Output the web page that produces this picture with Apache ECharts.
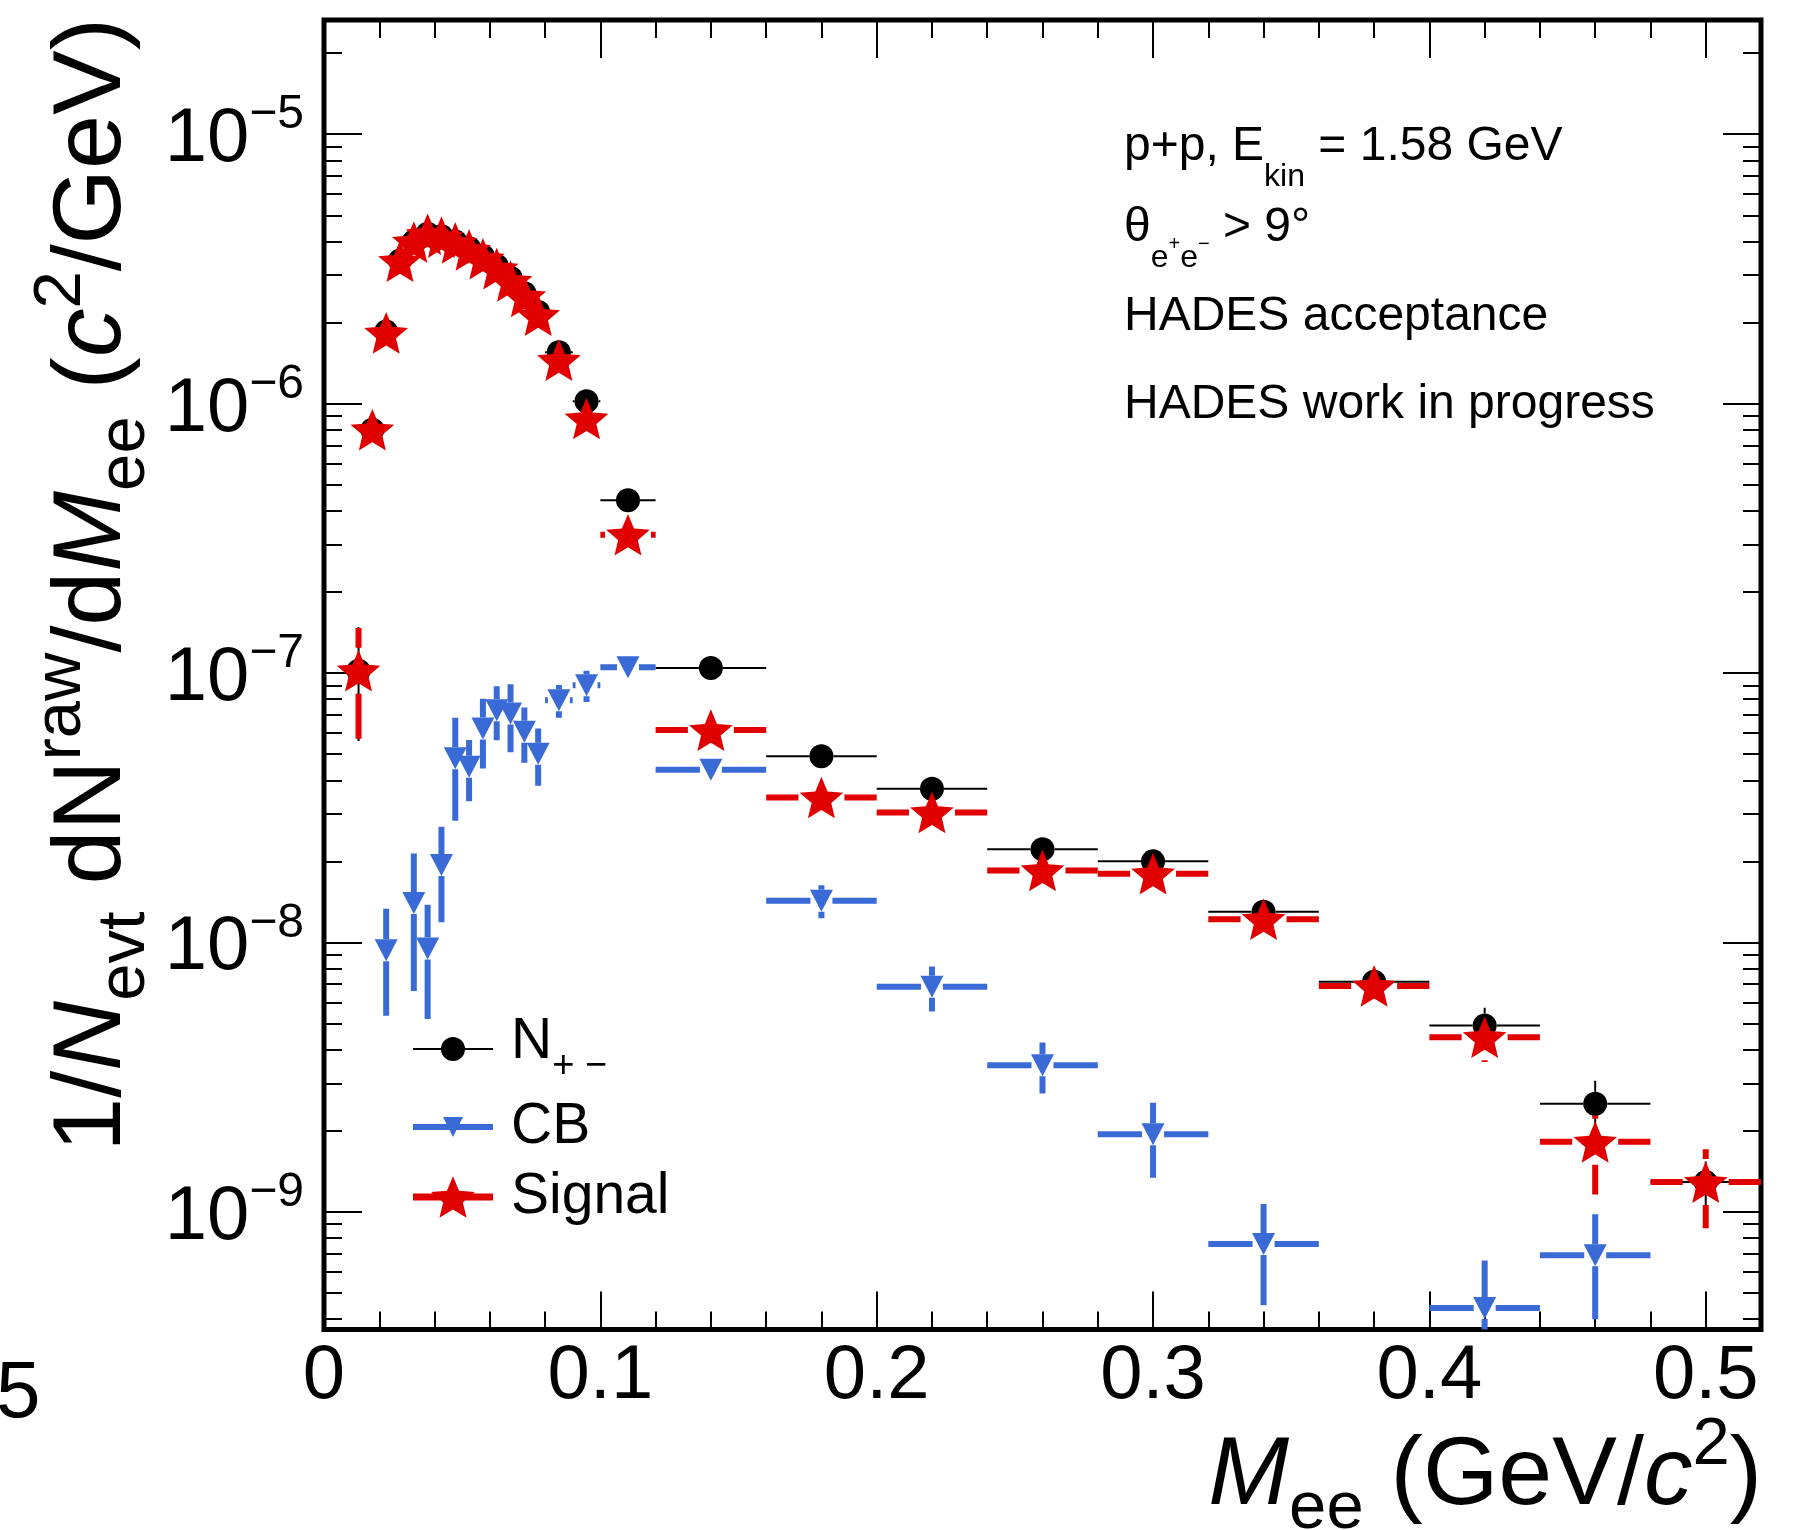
<!DOCTYPE html>
<html>
<head>
<meta charset="utf-8">
<script src="https://cdn.jsdelivr.net/npm/echarts@6/dist/echarts.min.js"></script>
<style>
html,body{margin:0;padding:0;background:#ffffff;}
#chart{width:1808px;height:1530px;}
</style>
</head>
<body>
<div id="chart"></div>
<script>
// ---------------- data ----------------
const binCenter = [0.0125, 0.0175, 0.0225, 0.0275, 0.0325, 0.0375, 0.0425, 0.0475, 0.0525, 0.0575, 0.0625, 0.0675, 0.0725, 0.0775,
                   0.085, 0.095, 0.11, 0.14, 0.18, 0.22, 0.26, 0.30, 0.34, 0.38, 0.42, 0.46, 0.50];
const binHalfWidth = [0.0025, 0.0025, 0.0025, 0.0025, 0.0025, 0.0025, 0.0025, 0.0025, 0.0025, 0.0025, 0.0025, 0.0025, 0.0025, 0.0025,
                      0.005, 0.005, 0.01, 0.02, 0.02, 0.02, 0.02, 0.02, 0.02, 0.02, 0.02, 0.02, 0.02];

// N+- (all pairs)
const nVal = [1.02e-7, 8.0e-7, 1.85e-6, 3.40e-6, 4.0e-6, 4.27e-6, 4.18e-6, 4.0e-6, 3.77e-6, 3.52e-6, 3.25e-6, 2.93e-6, 2.57e-6, 2.19e-6,
              1.55e-6, 1.02e-6, 4.38e-7, 1.045e-7, 4.91e-8, 3.72e-8, 2.22e-8, 2.0e-8, 1.30e-8, 7.15e-9, 4.92e-9, 2.52e-9, 1.29e-9];
const nErr = [4.6e-8, 2.0e-8, 3.0e-8, 4.0e-8, 4.4e-8, 4.5e-8, 4.5e-8, 4.4e-8, 4.3e-8, 4.1e-8, 3.9e-8, 3.7e-8, 3.5e-8, 3.2e-8,
              2.7e-8, 2.2e-8, 1.3e-8, 2.0e-9, 1.5e-9, 1.3e-9, 1.0e-9, 0.9e-9, 0.9e-9, 0.4e-9, 0.8e-9, 0.55e-9, 0.25e-9];

// CB (combinatorial background)
const cbVal = [null, null, 9.35e-9, null, 1.40e-8, 9.5e-9, 1.94e-8, 4.83e-8, 4.49e-8, 6.22e-8, 7.28e-8, 7.08e-8, 6.05e-8, 5.02e-8,
               7.92e-8, 9.0e-8, 1.05e-7, 4.38e-8, 1.43e-8, 6.85e-9, 3.5e-9, 1.94e-9, 7.6e-10, null, 4.4e-10, 6.9e-10, null];
const cbErr = [null, null, 4.0e-9, null, 7.4e-9, 4.3e-9, 7.5e-9, 2.0e-8, 1.15e-8, 1.8e-8, 1.65e-8, 2.0e-8, 1.4e-8, 1.2e-8,
               1.1e-8, 1.2e-8, 5.0e-9, 2.5e-9, 2.0e-9, 1.3e-9, 0.75e-9, 0.6e-9, 3.1e-10, null, 2.2e-10, 2.9e-10, null];

// Signal
const sigVal = [1.02e-7, 8.0e-7, 1.83e-6, 3.38e-6, 3.98e-6, 4.25e-6, 4.15e-6, 3.95e-6, 3.72e-6, 3.45e-6, 3.17e-6, 2.85e-6, 2.50e-6, 2.13e-6,
                1.45e-6, 8.8e-7, 3.26e-7, 6.14e-8, 3.45e-8, 3.04e-8, 1.85e-8, 1.80e-8, 1.22e-8, 6.9e-9, 4.45e-9, 1.82e-9, 1.29e-9];
const sigErr = [4.5e-8, 2.0e-8, 3.0e-8, 4.0e-8, 4.4e-8, 4.5e-8, 4.5e-8, 4.4e-8, 4.3e-8, 4.1e-8, 3.9e-8, 3.7e-8, 3.5e-8, 3.2e-8,
                2.7e-8, 2.2e-8, 1.2e-8, 3.0e-9, 2.0e-9, 1.7e-9, 1.2e-9, 1.1e-9, 8.0e-10, 5.5e-10, 8.5e-10, 6.6e-10, 4.2e-10];

// ticks
const xMajorTicks = [0, 0.1, 0.2, 0.3, 0.4, 0.5];
const xMinorTicks = [0.02, 0.04, 0.06, 0.08, 0.12, 0.14, 0.16, 0.18, 0.22, 0.24, 0.26, 0.28,
                     0.32, 0.34, 0.36, 0.38, 0.42, 0.44, 0.46, 0.48];
const yMajorTicks = [1e-9, 1e-8, 1e-7, 1e-6, 1e-5];
const yMinorTicks = [4e-10, 5e-10, 6e-10, 7e-10, 8e-10, 9e-10,
                     2e-9, 3e-9, 4e-9, 5e-9, 6e-9, 7e-9, 8e-9, 9e-9,
                     2e-8, 3e-8, 4e-8, 5e-8, 6e-8, 7e-8, 8e-8, 9e-8,
                     2e-7, 3e-7, 4e-7, 5e-7, 6e-7, 7e-7, 8e-7, 9e-7,
                     2e-6, 3e-6, 4e-6, 5e-6, 6e-6, 7e-6, 8e-6, 9e-6,
                     2e-5];
const X_MIN = 0, X_MAX = 0.52;
const Y_MIN = 3.661e-10, Y_MAX = 2.653e-5;

// ---------------- styling ----------------
const FONT = '"Liberation Sans", Arial, Helvetica, sans-serif';
const RED = '#e00000', BLUE = '#3a6ad6', BLACK = '#000000';

function rows(vals, errs) {
  const out = [];
  for (let i = 0; i < binCenter.length; i++) {
    if (vals[i] == null) continue;
    const y = vals[i], e = errs[i] || 0;
    out.push([binCenter[i], y, binCenter[i] - binHalfWidth[i], binCenter[i] + binHalfWidth[i], Math.max(y - e, 1e-14), y + e]);
  }
  return out;
}
function points(vals) {
  const out = [];
  for (let i = 0; i < binCenter.length; i++) if (vals[i] != null) out.push([binCenter[i], vals[i]]);
  return out;
}

function barRenderer(lw, gap, color) {
  return function (params, api) {
    const x = api.value(0), y = api.value(1);
    const c = api.coord([x, y]);
    const l = api.coord([api.value(2), y]);
    const r = api.coord([api.value(3), y]);
    const lo = api.coord([x, api.value(4)]);
    const hi = api.coord([x, api.value(5)]);
    const style = { stroke: color, lineWidth: lw, fill: null, lineCap: 'butt' };
    const kids = [];
    function seg(x1, y1, x2, y2) { kids.push({ type: 'line', shape: { x1: x1, y1: y1, x2: x2, y2: y2 }, style: style }); }
    if (c[0] - gap > l[0]) seg(l[0], c[1], c[0] - gap, c[1]);
    if (r[0] > c[0] + gap) seg(c[0] + gap, c[1], r[0], c[1]);
    if (c[1] - gap > hi[1]) seg(c[0], hi[1], c[0], c[1] - gap);
    if (isFinite(lo[1]) && lo[1] > c[1] + gap) seg(c[0], c[1] + gap, c[0], lo[1]);
    return { type: 'group', children: kids };
  };
}

function starPts(cx, cy, R, ratio) {
  const p = [];
  for (let k = 0; k < 10; k++) {
    const a = -Math.PI / 2 + k * Math.PI / 5;
    const rr = (k % 2) ? R * ratio : R;
    p.push((cx + rr * Math.cos(a)).toFixed(2) + ',' + (cy + rr * Math.sin(a)).toFixed(2));
  }
  return 'M' + p.join(' L') + ' Z';
}
const STAR_R = 23, STAR_RATIO = 0.45;
const starSymbol = 'path://' + starPts(0, 0, STAR_R, STAR_RATIO);
const triSymbol = 'path://M0,0 L23,0 L11.5,22 Z';

const iconN = 'path://M0,20 L80,20 L80,22 L0,22 Z M28,21 A12,12 0 0,1 52,21 A12,12 0 0,1 28,21 Z';
const iconCB = 'path://M0,7 L80,7 L80,13 L0,13 Z M30,0 L50,0 L40,20 Z';
const iconSig = 'path://M0,17.3 L80,17.3 L80,24.3 L0,24.3 Z ' + starPts(40, 23, STAR_R, STAR_RATIO);

const chart = echarts.init(document.getElementById('chart'), null, { renderer: 'canvas' });

function xAxisDef(pos, ticks, len, labels) {
  return {
    type: 'value', gridIndex: 0, position: pos, min: X_MIN, max: X_MAX,
    interval: len > 20 ? 0.1 : 0.02,
    axisLine: { show: false, onZero: false },
    axisTick: { show: true, inside: true, length: len, customValues: ticks, lineStyle: { color: '#000', width: 2 } },
    axisLabel: labels ? { show: true, customValues: xMajorTicks, margin: 10, color: '#000', fontFamily: FONT, fontSize: 76,
                         formatter: function (v) { return v === 0 ? '0' : String(+v.toFixed(2)); } }
                      : { show: false },
    splitLine: { show: false }, minorTick: { show: false }, minorSplitLine: { show: false }
  };
}
function yAxisDef(pos, ticks, len, labels) {
  return {
    type: 'log', logBase: 10, gridIndex: 0, position: pos, min: Y_MIN, max: Y_MAX,
    axisLine: { show: false, onZero: false },
    axisTick: { show: true, inside: true, length: len, customValues: ticks, lineStyle: { color: '#000', width: 2 } },
    axisLabel: labels ? {
      show: true, customValues: yMajorTicks, margin: 20,
      formatter: function (v) { const e = Math.round(Math.log10(v)); return '{b|10}{s|\u2212' + Math.abs(e) + '}'; },
      rich: {
        b: { fontFamily: FONT, fontSize: 76, color: '#000', height: 76, lineHeight: 88, verticalAlign: 'bottom' },
        s: { fontFamily: FONT, fontSize: 48, color: '#000', height: 50, verticalAlign: 'top' }
      }
    } : { show: false },
    splitLine: { show: false }, minorTick: { show: false }, minorSplitLine: { show: false }
  };
}

const titleRich = {
  t: { fontFamily: FONT, fontSize: 97, fill: '#000', height: 97, lineHeight: 130, verticalAlign: 'middle' },
  it: { fontFamily: FONT, fontSize: 97, fontStyle: 'italic', fill: '#000', height: 97, lineHeight: 130, verticalAlign: 'middle' },
  sub: { fontFamily: FONT, fontSize: 67, fill: '#000', height: 64, verticalAlign: 'bottom' },
  sup: { fontFamily: FONT, fontSize: 67, fill: '#000', height: 68, verticalAlign: 'top' }
};

const option = {
  animation: false,
  backgroundColor: '#ffffff',
  textStyle: { fontFamily: FONT },
  grid: { left: 324, top: 20, width: 1437, height: 1309.5, show: true, borderColor: '#000', borderWidth: 5,
          backgroundColor: 'transparent', containLabel: false, outerBoundsMode: 'none' },
  xAxis: [
    xAxisDef('bottom', xMajorTicks, 38, true),
    xAxisDef('bottom', xMinorTicks, 18, false),
    xAxisDef('top', xMajorTicks, 38, false),
    xAxisDef('top', xMinorTicks, 18, false)
  ],
  yAxis: [
    yAxisDef('left', yMajorTicks, 38, true),
    yAxisDef('left', yMinorTicks, 18, false),
    yAxisDef('right', yMajorTicks, 38, false),
    yAxisDef('right', yMinorTicks, 18, false)
  ],
  legend: {
    show: true, orient: 'vertical', left: 413, top: 1014, padding: 0, itemGap: 13,
    itemWidth: 80, itemHeight: 42, selectedMode: false, symbolRotate: 0,
    itemStyle: { borderWidth: 0 },
    data: [{ name: 'N+-', icon: iconN }, { name: 'CB', icon: iconCB }, { name: 'Signal', icon: iconSig }],
    formatter: function (name) {
      if (name === 'N+-') return '{m|N}{s|+ \u2212}';
      return '{c|' + name + '}';
    },
    textStyle: {
      color: '#000', fontFamily: FONT, fontSize: 57, padding: [0, 0, 0, 13],
      rich: {
        m: { fontFamily: FONT, fontSize: 57, color: '#000', height: 57, lineHeight: 70, verticalAlign: 'top' },
        c: { fontFamily: FONT, fontSize: 57, color: '#000', height: 57, lineHeight: 70, verticalAlign: 'middle' },
        s: { fontFamily: FONT, fontSize: 38, color: '#000', height: 35, verticalAlign: 'bottom' }
      }
    }
  },
  series: [
    { type: 'custom', name: 'N+- errors', xAxisIndex: 0, yAxisIndex: 0, clip: true, silent: true,
      itemStyle: { color: BLACK }, encode: { x: 0, y: 1 },
      renderItem: barRenderer(2, 12, BLACK), data: rows(nVal, nErr) },
    { type: 'scatter', name: 'N+-', xAxisIndex: 0, yAxisIndex: 0, clip: true, silent: true,
      symbol: 'circle', symbolSize: 24, itemStyle: { color: BLACK, opacity: 1 }, data: points(nVal) },
    { type: 'custom', name: 'CB errors', xAxisIndex: 0, yAxisIndex: 0, clip: true, silent: true,
      itemStyle: { color: BLUE }, encode: { x: 0, y: 1 },
      renderItem: barRenderer(6, 11, BLUE), data: rows(cbVal, cbErr) },
    { type: 'scatter', name: 'CB', xAxisIndex: 0, yAxisIndex: 0, clip: true, silent: true,
      symbol: triSymbol, symbolSize: [23, 22], itemStyle: { color: BLUE, opacity: 1 }, data: points(cbVal) },
    { type: 'custom', name: 'Signal errors', xAxisIndex: 0, yAxisIndex: 0, clip: true, silent: true,
      itemStyle: { color: RED }, encode: { x: 0, y: 1 },
      renderItem: barRenderer(6, 23, RED), data: rows(sigVal, sigErr) },
    { type: 'scatter', name: 'Signal', xAxisIndex: 0, yAxisIndex: 0, clip: true, silent: true,
      symbol: starSymbol, symbolSize: [43.7, 41.6], itemStyle: { color: RED, opacity: 1 }, data: points(sigVal) }
  ],
  graphic: [
    // y axis title (rotated)
    { type: 'text', x: 28, y: 18, rotation: Math.PI / 2, silent: true,
      style: {
        text: '{t|1/}{it|N}{sub|evt}{t| dN}{sup|raw}{t|/d}{it|M}{sub|ee}{t| (}{it|c}{sup|2}{t|/GeV)}',
        align: 'right', verticalAlign: 'top', rich: titleRich
      } },
    // x axis title
    { type: 'text', x: 1762, y: 1412, silent: true,
      style: {
        text: '{it|M}{sub|ee}{t| (GeV/}{it|c}{sup|2}{t|)}',
        align: 'right', verticalAlign: 'top', rich: titleRich
      } },
    // info text
    { type: 'text', x: 1124, y: 123, silent: true,
      style: {
        text: '{a|p+p, E}{b|kin}{a| = 1.58 GeV}', align: 'left', verticalAlign: 'top',
        rich: {
          a: { fontFamily: FONT, fontSize: 48, fill: '#000', height: 48, lineHeight: 70, verticalAlign: 'top' },
          b: { fontFamily: FONT, fontSize: 32, fill: '#000', height: 32, verticalAlign: 'bottom' }
        }
      } },
    { type: 'text', x: 1124, y: 204, silent: true,
      style: {
        text: '{a|\u03b8}{b|e}{c|+}{b|e}{c|\u2212}{a| > 9\u00b0}', align: 'left', verticalAlign: 'top',
        rich: {
          a: { fontFamily: FONT, fontSize: 48, fill: '#000', height: 48, lineHeight: 70, verticalAlign: 'top' },
          b: { fontFamily: FONT, fontSize: 32, fill: '#000', height: 32, verticalAlign: 'bottom' },
          c: { fontFamily: FONT, fontSize: 20, fill: '#000', height: 80, lineHeight: 20, verticalAlign: 'top' }
        }
      } },
    { type: 'text', x: 1124, y: 293, silent: true,
      style: { text: 'HADES acceptance', align: 'left', verticalAlign: 'top', fontFamily: FONT, fontSize: 48, lineHeight: 48, fill: '#000' } },
    { type: 'text', x: 1124, y: 381, silent: true,
      style: { text: 'HADES work in progress', align: 'left', verticalAlign: 'top', fontFamily: FONT, fontSize: 48, lineHeight: 48, fill: '#000' } },
    // fragment of a neighbouring panel's label at the left edge
    { type: 'text', x: -4, y: 1395, silent: true,
      style: { text: '5', align: 'left', verticalAlign: 'middle', fontFamily: FONT, fontSize: 80, fill: '#000' } }
  ]
};
chart.setOption(option);
</script>
</body>
</html>
